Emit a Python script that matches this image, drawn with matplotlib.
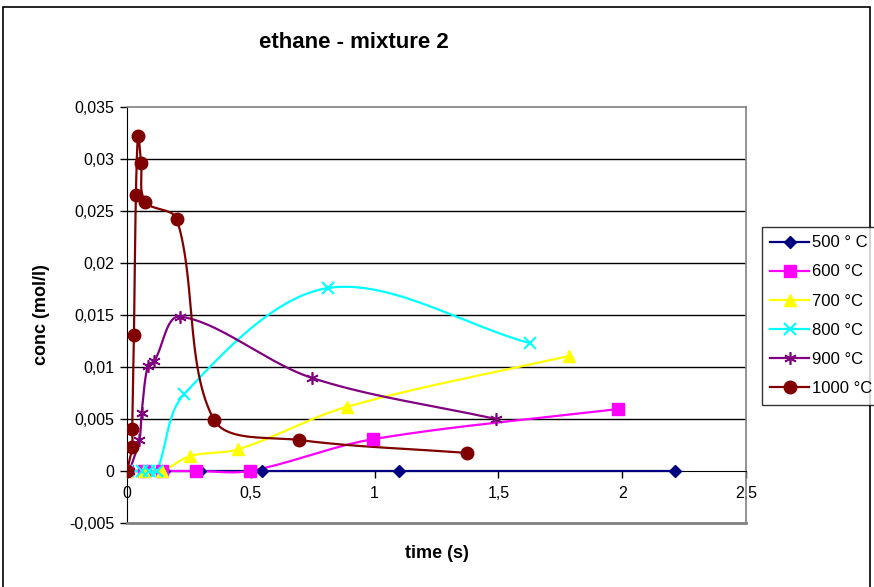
import numpy as np
import matplotlib
matplotlib.use("Agg")
import matplotlib.pyplot as plt
from matplotlib.lines import Line2D
from matplotlib.patches import Rectangle

plt.rcParams['font.family'] = ['Liberation Sans', 'DejaVu Sans']

# ---- data -------------------------------------------------------------
t_500 = [0.0, 0.07, 0.15, 0.295, 0.545, 1.10, 2.215]
c_500 = [0.0, 0.0, 0.0, 0.0, 0.0, 0.0, 0.0]

t_600 = [0.0, 0.07, 0.14, 0.279, 0.495, 0.992, 1.982]
c_600 = [0.0, 0.0, 0.0, 0.0, 0.0, 0.00305, 0.00596]

t_700 = [0.0, 0.07, 0.14, 0.255, 0.45, 0.889, 1.784]
c_700 = [0.0, 0.0, 0.0, 0.00144, 0.00209, 0.00618, 0.01106]

t_800 = [0.0, 0.06, 0.09, 0.12, 0.231, 0.813, 1.626]
c_800 = [0.0, 0.0, 0.0, 0.0, 0.0074, 0.0176, 0.0123]

t_900 = [0.01, 0.05, 0.059, 0.084, 0.11, 0.213, 0.748, 1.489]
c_900 = [0.0, 0.00298, 0.00555, 0.01013, 0.01058, 0.01484, 0.00894, 0.0050]

t_1000 = [0.0, 0.021, 0.021, 0.028, 0.036, 0.045, 0.057, 0.072, 0.201,
          0.352, 0.696, 1.375]
c_1000 = [0.0, 0.00234, 0.00401, 0.01308, 0.02657, 0.0322, 0.0296, 0.0259,
          0.02423, 0.0049, 0.00298, 0.00173]

series_labels = ["500 ° C", "600 °C", "700 °C", "800 °C", "900 °C", "1000 °C"]

x_ticks = [0, 0.5, 1, 1.5, 2, 2.5]
x_tick_labels = ["0", "0,5", "1", "1,5", "2", "2,5"]
y_ticks = [-0.005, 0, 0.005, 0.01, 0.015, 0.02, 0.025, 0.03, 0.035]
y_tick_labels = ["-0,005", "0", "0,005", "0,01", "0,015", "0,02", "0,025",
                 "0,03", "0,035"]


def smooth(xs, ys, sx, sy, n=60):
    """Bezier smoothing through every point, tangents weighted by the
    on-screen segment lengths (sx, sy convert data units to pixels)."""
    p = np.column_stack([np.asarray(xs) * sx, np.asarray(ys) * sy])
    if len(p) < 3:
        return np.asarray(xs), np.asarray(ys)
    ext = np.vstack([p[0], p, p[-1]])
    out = [p[:1]]
    u = np.linspace(0, 1, n)[1:, None]
    for i in range(1, len(ext) - 2):
        p0, p1, p2, p3 = ext[i - 1], ext[i], ext[i + 1], ext[i + 2]
        d01 = np.hypot(*(p1 - p0))
        d12 = np.hypot(*(p2 - p1))
        d23 = np.hypot(*(p3 - p2))
        if d12 == 0:
            continue
        f1 = d12 / (3.0 * (d01 + d12)) if d01 + d12 > 0 else 0
        f2 = d12 / (3.0 * (d12 + d23)) if d12 + d23 > 0 else 0
        c1 = p1 + (p2 - p0) * f1
        c2 = p2 - (p3 - p1) * f2
        seg = ((1 - u) ** 3) * p1 + 3 * ((1 - u) ** 2) * u * c1 \
            + 3 * (1 - u) * u ** 2 * c2 + u ** 3 * p2
        out.append(seg)
    pts = np.vstack(out)
    return pts[:, 0] / sx, pts[:, 1] / sy


W, H = 874, 587
fig = plt.figure(figsize=(W / 100, H / 100), dpi=100)

# outer chart frame
fig.patches.append(Rectangle((3 / W, -0.05), 867 / W, 1.05 - 7 / H,
                             transform=fig.transFigure, fill=False,
                             edgecolor='black', linewidth=1.2))

left, right, top, bottom = 127, 746, 107, 523
ax = fig.add_axes([left / W, 1 - bottom / H, (right - left) / W,
                   (bottom - top) / H])
xmin, xmax, ymin, ymax = 0, 2.5, -0.005, 0.035
ax.set_xlim(xmin, xmax)
ax.set_ylim(ymin, ymax)
px_x = (right - left) / (xmax - xmin)
px_y = (bottom - top) / (ymax - ymin)

for yv in y_ticks[2:-1]:
    ax.axhline(yv, color='black', linewidth=1.0, zorder=1)

styles = [
    dict(color='#000080', marker='D', ms=6),
    dict(color='#FF00FF', marker='s', ms=8),
    dict(color='#FFFF00', marker='^', ms=8),
    dict(color='#00FFFF', marker='x', ms=8, mew=1.5),
    dict(color='#800080', marker=(6, 2, 0), ms=9, mew=1.2),
    dict(color='#800000', marker='o', ms=9),
]
data = [(t_500, c_500), (t_600, c_600), (t_700, c_700), (t_800, c_800),
        (t_900, c_900), (t_1000, c_1000)]

handles = []
for (tx, cy), st, lab in zip(data, styles, series_labels):
    sx, sy = smooth(tx, cy, px_x, px_y)
    ax.plot(sx, sy, color=st['color'], linewidth=1.6, zorder=3,
            solid_capstyle='round')
    ax.plot(tx, cy, linestyle='none', marker=st['marker'],
            markersize=st['ms'], color=st['color'],
            markeredgecolor=st['color'], markeredgewidth=st.get('mew', 1.0),
            zorder=4)
    handles.append(Line2D([], [], color=st['color'], linewidth=1.6,
                          marker=st['marker'],
                          markersize=st['ms'],
                          markeredgewidth=st.get('mew', 1.0),
                          label=lab))

# axes frame: grey plot-area border, black value axes
for side in ('top', 'right'):
    ax.spines[side].set_color('#808080')
    ax.spines[side].set_linewidth(1.2)
ax.spines['left'].set_color('black')
ax.spines['bottom'].set_color('black')
ax.spines['bottom'].set_position(('data', 0))
ax.plot([0, 1], [0, 0], transform=ax.transAxes, color='#808080',
        linewidth=2.0, clip_on=False, zorder=5)

ax.set_xticks(x_ticks)
ax.set_xticklabels(x_tick_labels)
ax.set_yticks(y_ticks)
ax.set_yticklabels(y_tick_labels)
ax.tick_params(axis='both', direction='out', length=5, width=1,
               labelsize=11.5, color='black')
ax.tick_params(axis='x', pad=6)
ax.tick_params(axis='y', pad=4)

fig.text(354 / W, 1 - 42 / H, "ethane - mixture 2", ha='center',
         va='center', fontsize=16, fontweight='bold')
fig.text(437 / W, 1 - 553 / H, "time (s)", ha='center', va='center',
         fontsize=13, fontweight='bold')
fig.text(42 / W, 1 - 315 / H, "conc (mol/l)", ha='center', va='center',
         fontsize=13, fontweight='bold', rotation=90)

leg = fig.legend(handles=handles, loc='upper left',
                 bbox_to_anchor=(762 / W, 1 - 227 / H),
                 frameon=True, fancybox=False, fontsize=12,
                 handlelength=2.3, handletextpad=0.2,
                 labelspacing=0.85, borderpad=0.5, borderaxespad=0)
leg.get_frame().set_edgecolor('black')
leg.get_frame().set_linewidth(1.0)

fig.savefig("out.png", dpi=100)
